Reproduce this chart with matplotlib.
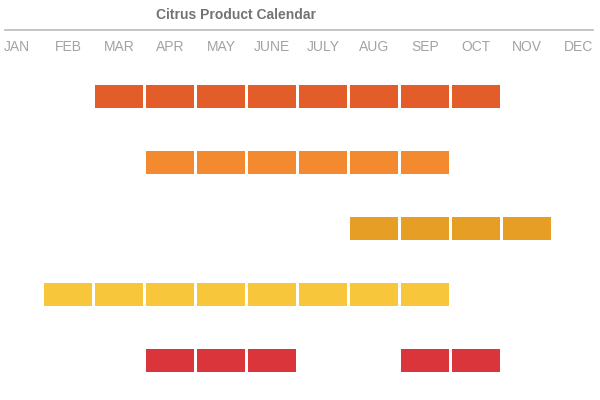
import matplotlib.pyplot as plt
from matplotlib import font_manager

months = ['JAN', 'FEB', 'MAR', 'APR', 'MAY', 'JUNE', 'JULY', 'AUG', 'SEP', 'OCT', 'NOV', 'DEC']

# months in season for each row (0 = JAN)
row1 = [2, 3, 4, 5, 6, 7, 8, 9]
row2 = [3, 4, 5, 6, 7, 8]
row3 = [7, 8, 9, 10]
row4 = [1, 2, 3, 4, 5, 6, 7, 8]
row5 = [3, 4, 5, 8, 9]
rows = [row1, row2, row3, row4, row5]
colors = ['#e35d2b', '#f38a2f', '#e69e24', '#f7c63b', '#d9353a']

names = {f.name for f in font_manager.fontManager.ttflist}
font = 'Liberation Sans Narrow' if 'Liberation Sans Narrow' in names else 'Liberation Sans'
plt.rcParams['font.family'] = [font, 'DejaVu Sans']

fig = plt.figure(figsize=(6, 4), dpi=100)
ax = fig.add_axes([0, 0, 1, 1])
ax.set_xlim(-0.333, 11.431)
ax.set_ylim(4.598, -1.462)
ax.axis('off')

# month segments
for r, (mlist, c) in enumerate(zip(rows, colors)):
    ax.barh([r] * len(mlist), [0.95] * len(mlist), left=[m - 0.47 for m in mlist],
            height=0.35, color=c, edgecolor='none')

# month header
for i, m in enumerate(months):
    ax.text(i, -0.75, m, ha='center', va='center', fontsize=10, color='#a3a3a3')

ax.plot([-0.235, 11.29], [-1.0, -1.0], color='#bbbbbb', lw=1.2)
ax.text(4.3, -1.235, 'Citrus Product Calendar', ha='center', va='center',
        fontsize=10, fontweight='bold', color='#737373')

fig.savefig('out.png', dpi=100, facecolor='white')
